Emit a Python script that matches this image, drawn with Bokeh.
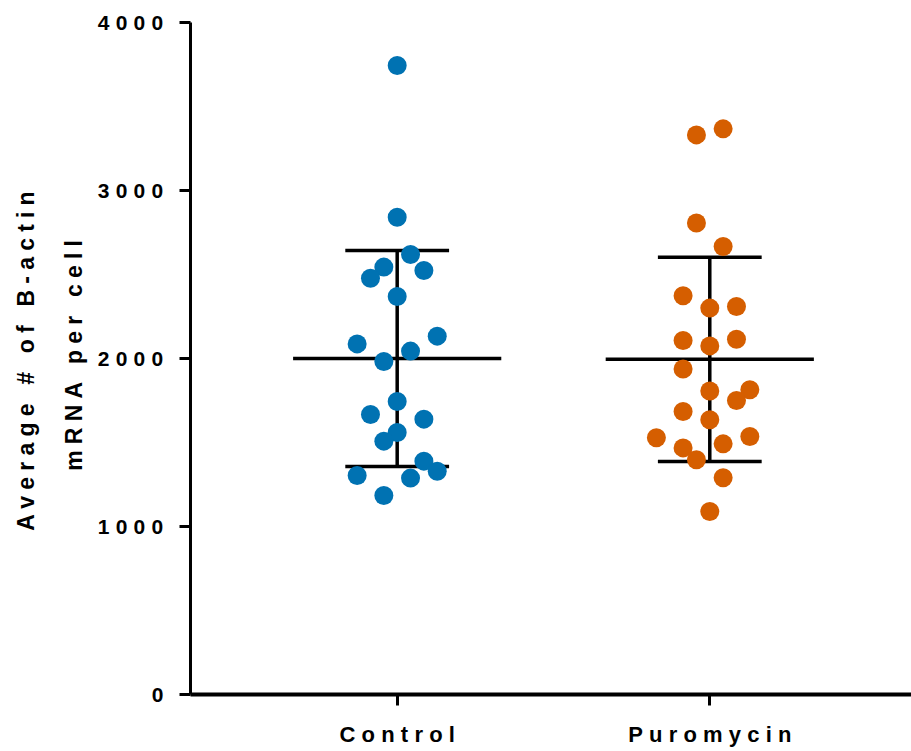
import math
from bokeh.plotting import figure
from bokeh.models import Range1d, FixedTicker, InlineStyleSheet, Label, LinearAxis
from bokeh.embed import file_html
from bokeh.resources import INLINE

categories = ["Control", "Puromycin"]

control_values = [3744, 2841, 2619, 2544, 2478, 2524, 2369, 2133, 2087, 2044, 1982,
                  1744, 1667, 1639, 1560, 1508, 1389, 1329, 1304, 1288, 1185]
control_jitter = [0, 0, 1, -1, -2, 2, 0, 3, -3, 1, -1,
                  0, -2, 2, 0, -1, 2, 3, -3, 1, -1]

puromycin_values = [3331, 3367, 2806, 2667, 2373, 2300, 2310, 2107, 2075, 2115, 1938,
                    1806, 1814, 1750, 1684, 1635, 1528, 1536, 1492, 1468, 1397, 1290, 1089]
puromycin_jitter = [-1, 1, -1, 1, -2, 0, 2, -2, 0, 2, -2,
                    0, 3, 2, -2, 0, -4, 3, 1, -2, -1, 1, 0]

means = [2000, 1995]
sd_upper = [2643, 2603]
sd_lower = [1357, 1387]

y_ticks = [0, 1000, 2000, 3000, 4000]
y_title_lines = ["Average # of B-actin", "mRNA per cell"]

colors = ["#0072B2", "#D55E00"]

# ---- layout / style ----
W, H = 911, 751
FRAME_L, FRAME_T, FRAME_R, FRAME_B = 190, 22, 911, 694
X0, X1 = 0.3388, 2.6453
Y0, Y1 = 0, 4000
LS = 6.2          # letter spacing (px)
FONT = "Liberation Sans"
JIT = 0.0427      # jitter step in x units
MEAN_HW = 0.333   # half-width of mean line
CAP_HW = 0.166    # half-width of SD caps
TICK_OUT = 11
YLAB_RIGHT = 163  # right edge of y tick labels (px)
PX_PER_X = (FRAME_R - FRAME_L) / (X1 - X0)


def px_to_x(px):
    return X0 + (px - FRAME_L) / PX_PER_X


def py_to_y(py):
    return Y1 - (py - FRAME_T) * (Y1 - Y0) / (FRAME_B - FRAME_T)


p = figure(width=W, height=H, output_backend="svg", toolbar_location=None,
           x_range=Range1d(X0, X1), y_range=Range1d(Y0, Y1),
           min_border_left=FRAME_L, min_border_right=W - FRAME_R,
           min_border_top=FRAME_T, min_border_bottom=H - FRAME_B)
p.stylesheets = [InlineStyleSheet(css=":host { letter-spacing: %spx; }" % LS)]
p.outline_line_color = None
p.xgrid.visible = False
p.ygrid.visible = False
p.background_fill_color = "white"
p.border_fill_color = "white"

xs = [1, 2]
# mean lines and SD bars
p.segment(x0=[x - MEAN_HW for x in xs], x1=[x + MEAN_HW for x in xs], y0=means, y1=means,
          line_color="black", line_width=3.5)
p.segment(x0=xs, x1=xs, y0=sd_lower, y1=sd_upper, line_color="black", line_width=3.5)
p.segment(x0=[x - CAP_HW for x in xs], x1=[x + CAP_HW for x in xs], y0=sd_upper, y1=sd_upper,
          line_color="black", line_width=3.5)
p.segment(x0=[x - CAP_HW for x in xs], x1=[x + CAP_HW for x in xs], y0=sd_lower, y1=sd_lower,
          line_color="black", line_width=3.5)

p.scatter(x=[1 + j * JIT for j in control_jitter], y=control_values, size=19,
          fill_color=colors[0], line_color=None)
p.scatter(x=[2 + j * JIT for j in puromycin_jitter], y=puromycin_values, size=19,
          fill_color=colors[1], line_color=None)

# x axis: line and tick marks only
xa = p.xaxis[0]
xa.ticker = FixedTicker(ticks=xs)
xa.major_label_overrides = {x: "" for x in xs}
xa.major_label_text_font_size = "1px"
xa.major_label_standoff = 0
xa.minor_tick_line_color = None
xa.major_tick_in = 0
xa.major_tick_out = TICK_OUT
xa.major_tick_line_width = 3
xa.axis_line_width = 4

# second x axis below it: category labels only (tick positions nudged so that the
# letter-spaced text stays centred on its category)
label_ticks = [x - (len(name) - 1) * LS / 2 / PX_PER_X for x, name in zip(xs, categories)]
xa2 = LinearAxis(ticker=FixedTicker(ticks=label_ticks),
                 major_label_overrides={t: n for t, n in zip(label_ticks, categories)},
                 axis_line_color=None, major_tick_line_color=None,
                 minor_tick_line_color=None, major_tick_in=0, major_tick_out=0,
                 major_label_standoff=16,
                 major_label_text_font=FONT, major_label_text_font_style="bold",
                 major_label_text_font_size="22px", major_label_text_color="black")
p.add_layout(xa2, "below")

# y axis: 4-digit labels drawn by the axis; the letter spacing (3 gaps) is
# compensated through the standoff; the single "0" is drawn as a Label
ya = p.yaxis[0]
ya.ticker = FixedTicker(ticks=y_ticks)
ya.major_label_overrides = {0: ""}
ya.minor_tick_line_color = None
ya.major_tick_in = 0
ya.major_tick_out = TICK_OUT
ya.major_tick_line_width = 3
ya.axis_line_width = 3
ya.major_label_text_font = FONT
ya.major_label_text_font_style = "bold"
ya.major_label_text_font_size = "21px"
ya.major_label_text_color = "black"
ya.major_label_standoff = round(FRAME_L - TICK_OUT - YLAB_RIGHT + 3 * LS)

p.add_layout(Label(x=px_to_x(YLAB_RIGHT), y=y_ticks[0], text=str(y_ticks[0]),
                   text_align="right", text_baseline="middle",
                   text_font=FONT, text_font_style="bold", text_font_size="21px",
                   text_color="black"), "left")

# y axis title (two lines, rotated)
for line, bx, cy in zip(y_title_lines, [25, 73], [360.5, 354.5]):
    p.add_layout(Label(x=px_to_x(bx), y=py_to_y(cy + (len(line) - 1) * LS / 2), text=line,
                       angle=math.pi / 2, text_align="center", text_baseline="alphabetic",
                       text_font=FONT, text_font_style="bold", text_font_size="23px",
                       text_color="black"), "left")

open("out.html", "w").write(file_html(p, INLINE))
